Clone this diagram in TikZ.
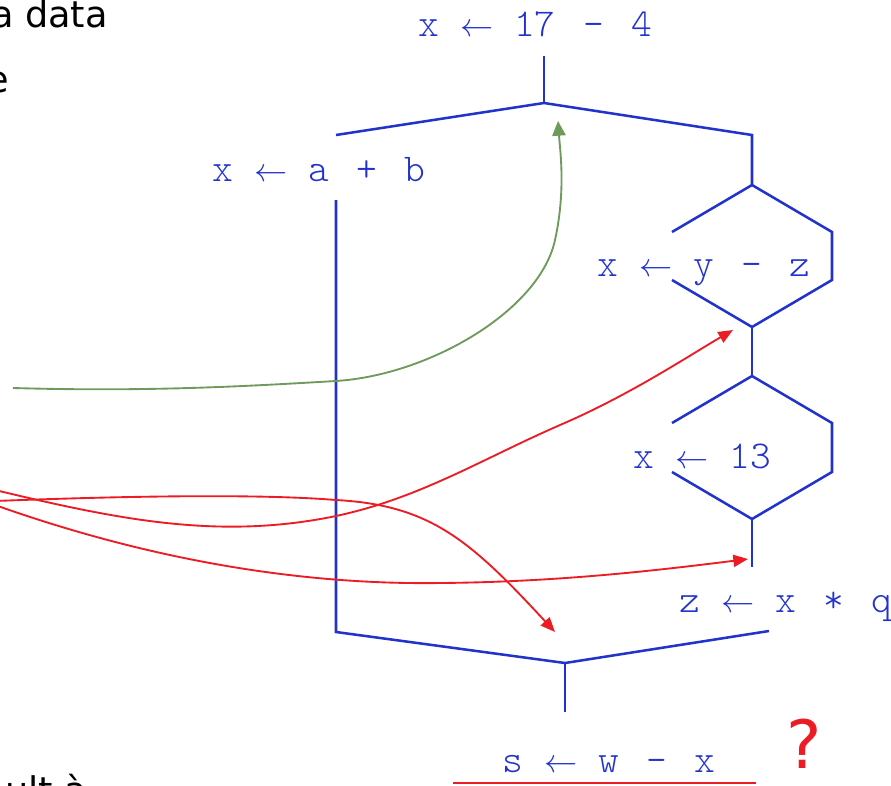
\documentclass[tikz,border=0pt]{standalone}
\usepackage{fontspec}
\setmainfont{DejaVu Sans}
\newfontfamily\codefont{Latin Modern Mono Light}
\usetikzlibrary{arrows.meta}
\definecolor{Code}{HTML}{2233CC}
\definecolor{Flow}{HTML}{ED1C24}
\definecolor{Reach}{HTML}{6E9A5C}
\newcommand{\assignto}{\makebox[15.5pt]{\fontsize{25}{25}\selectfont$\leftarrow$}}

\begin{document}
\begin{tikzpicture}[x=0.75pt,y=-0.75pt,
  stmt/.style={font=\codefont\fontsize{29.6}{30}\selectfont,text=Code,inner sep=0pt,anchor=base,
    execute at begin node={\spaceskip=20.5pt\relax}},
  slide/.style={font=\fontsize{27.5}{33}\selectfont,text=black,inner sep=0pt,anchor=base east},
  cfg/.style={Code,line width=1.9pt},
  kill/.style={-{Triangle[length=11pt,width=9pt]},Flow,line width=1.4pt},
  reach/.style={-{Triangle[length=11pt,width=10pt]},Reach,line width=1.4pt}]
\clip (0,0) rectangle (891,785);
\node[slide] (txt1) at (108,27) {a data};
\node[slide] (txt2) at (9,92) {e};
\node[slide,anchor=base west] (txt3) at (5,803) {ult à};
\node[stmt] (s1) at (535,36) {x \assignto{} 17 - 4};
\node[stmt] (s2) at (319,181) {x \assignto{} a + b};
\node[stmt] (s3) at (704,276) {x \assignto{} y - z};
\node[stmt] (s4) at (702,468) {x \assignto{} 13};
\node[stmt] (s5) at (786,612) {z \assignto{} x * q};
\node[stmt] (s6) at (609,772) {s \assignto{} w - x};
\node[font=\fontsize{50}{50}\selectfont,text=Flow,inner sep=0pt] (qm) at (804,744) {?};
\coordinate (t1) at (544,56);
\coordinate (j1) at (544,103);
\coordinate (l1) at (336,135);
\coordinate (r1) at (752,135);
\coordinate (h1t) at (752,185);
\coordinate (h1ul) at (672,232);
\coordinate (h1ur) at (832,232);
\coordinate (h1lr) at (832,280);
\coordinate (h1b) at (752,327);
\coordinate (h1ll) at (672,280);
\coordinate (h2t) at (752,376);
\coordinate (h2ul) at (672,423);
\coordinate (h2ur) at (832,423);
\coordinate (h2lr) at (832,472);
\coordinate (h2b) at (752,519);
\coordinate (h2ll) at (672,472);
\coordinate (r2) at (752,567);
\coordinate (a1) at (336,200);
\coordinate (a2) at (336,632);
\coordinate (j2) at (565,663);
\coordinate (r3) at (769,631);
\coordinate (j3) at (565,712);
\draw[cfg] (t1) -- (j1);
\draw[cfg] (l1) -- (j1) -- (r1) -- (h1t);
\draw[cfg] (h1ul) -- (h1t) -- (h1ur) -- (h1lr) -- (h1b) -- (h1ll);
\draw[cfg] (h1b) -- (h2t);
\draw[cfg] (h2ul) -- (h2t) -- (h2ur) -- (h2lr) -- (h2b) -- (h2ll);
\draw[cfg] (h2b) -- (r2);
\draw[cfg] (a1) -- (a2) -- (j2) -- (r3);
\draw[cfg] (j2) -- (j3);
\coordinate (u1) at (453,783);
\coordinate (u2) at (756,783);
\draw[Flow,line width=1.5pt] (u1) -- (u2);
\coordinate (g0) at (13,388);
\coordinate (g1) at (558,121);
\draw[reach] (g0) .. controls (150,392) and (250,386) .. (336,381) .. controls (430,375) and (540,310) .. (555,240) .. controls (566,190) and (560,150) .. (g1);
\coordinate (ka) at (-5,490);
\coordinate (kb) at (-5,501);
\coordinate (kc) at (-5,505);
\coordinate (ea) at (733,330);
\coordinate (eb) at (555,632);
\coordinate (ec) at (748,559);
\draw[kill] (ka) .. controls (120,520) and (220,540) .. (336,516) .. controls (420,498) and (480,460) .. (560,425) .. controls (630,395) and (690,355) .. (ea);
\draw[kill] (kb) .. controls (100,497) and (250,493) .. (336,500) .. controls (430,505) and (470,540) .. (eb);
\draw[kill] (kc) .. controls (150,560) and (300,585) .. (440,583) .. controls (560,582) and (660,570) .. (ec);
\end{tikzpicture}
\end{document}
